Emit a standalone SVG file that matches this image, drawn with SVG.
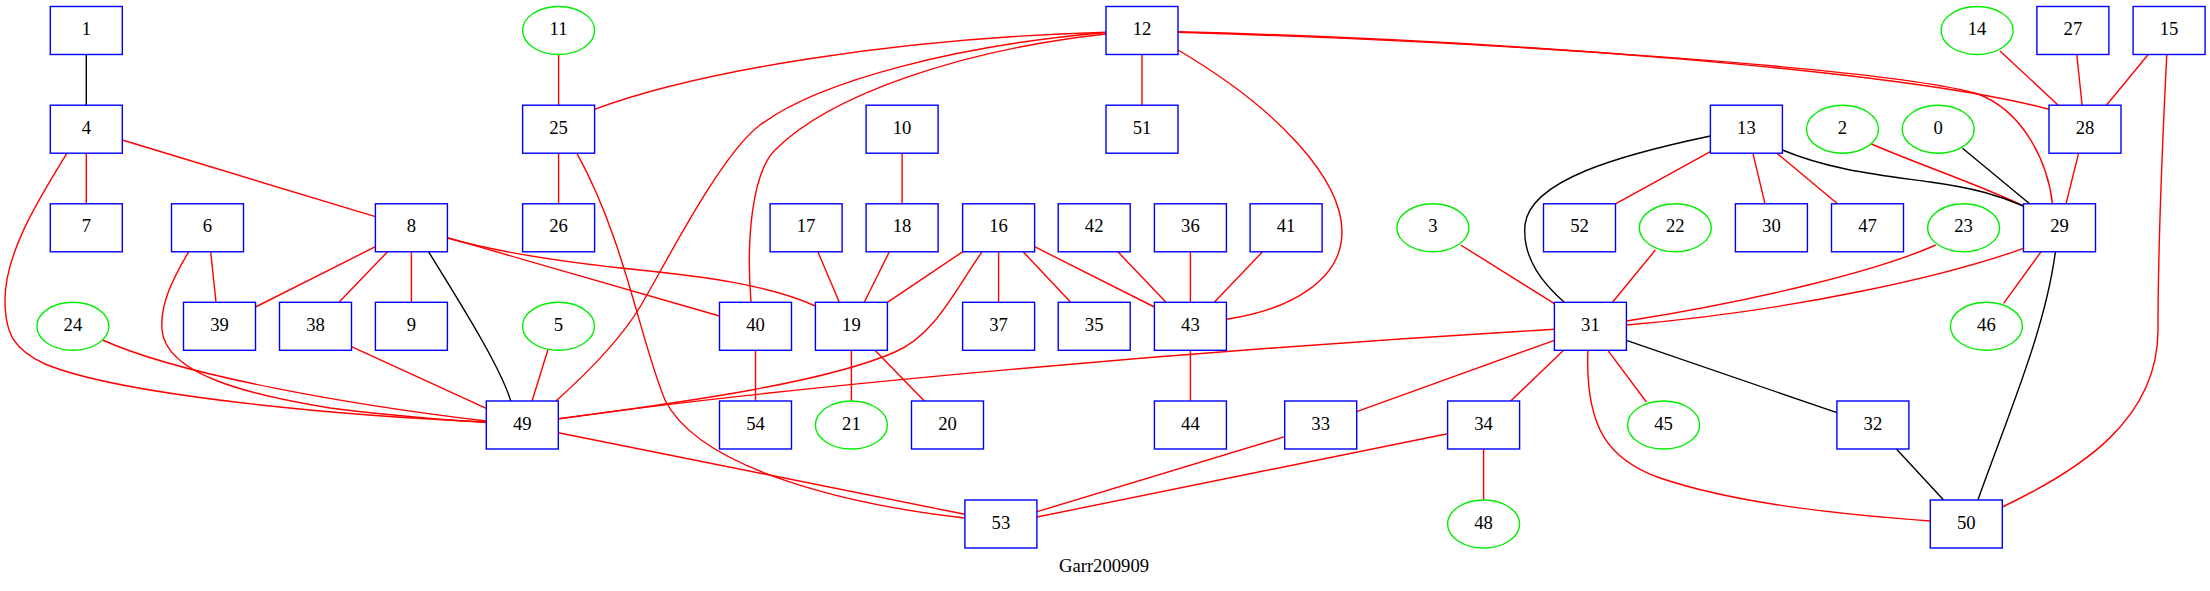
<svg xmlns="http://www.w3.org/2000/svg" width="2210" height="591" viewBox="0 0 2210 591">
<style>
.b rect{fill:#fff;stroke:#0000ff;stroke-width:1.4}
.g ellipse{fill:#fff;stroke:#00ee00;stroke-width:1.4}
text{font-family:"Liberation Serif","Times New Roman",serif;font-size:18.67px;text-anchor:middle;fill:#000}
#edges path,#edges line{fill:none;stroke-width:1.4}
.r{stroke:#ff0000}
.k{stroke:#000}
</style>
<rect width="2210" height="591" fill="#fff"/>
<g id="edges">
<line class="k" x1="86.3" y1="54.5" x2="86.3" y2="105.2"/>
<line class="r" x1="86.3" y1="153.2" x2="86.3" y2="203.8"/>
<line class="r" x1="122.3" y1="140" x2="375.4" y2="216.7"/>
<line class="r" x1="210.7" y1="251.8" x2="216" y2="302.3"/>
<line class="r" x1="375.4" y1="246.7" x2="255.5" y2="307"/>
<line class="r" x1="387.5" y1="251.8" x2="339" y2="302.3"/>
<line class="r" x1="411.4" y1="251.8" x2="411.4" y2="302.3"/>
<line class="r" x1="447.4" y1="237.7" x2="719.5" y2="316"/>
<line class="r" x1="558.6" y1="54.5" x2="558.6" y2="105.2"/>
<line class="r" x1="558.6" y1="153.2" x2="558.6" y2="203.8"/>
<line class="r" x1="1142" y1="54.5" x2="1142" y2="105.2"/>
<line class="r" x1="902.1" y1="153.2" x2="902.1" y2="203.8"/>
<line class="r" x1="817.9" y1="251.8" x2="839.3" y2="302.3"/>
<line class="r" x1="889.3" y1="251.8" x2="864.3" y2="302.3"/>
<line class="r" x1="962.6" y1="251.8" x2="887.4" y2="302.3"/>
<line class="r" x1="998.6" y1="251.8" x2="998.6" y2="302.3"/>
<line class="r" x1="1023.2" y1="251.8" x2="1070.7" y2="302.3"/>
<line class="r" x1="1034.6" y1="246.7" x2="1154.4" y2="307"/>
<line class="r" x1="1117.9" y1="251.8" x2="1166" y2="302.3"/>
<line class="r" x1="1190.4" y1="251.8" x2="1190.4" y2="302.3"/>
<line class="r" x1="1262.5" y1="251.8" x2="1214.3" y2="302.3"/>
<line class="r" x1="1190.4" y1="350.3" x2="1190.4" y2="401"/>
<line class="r" x1="351.5" y1="346.7" x2="486.3" y2="408.3"/>
<line class="r" x1="548.2" y1="349" x2="532" y2="401"/>
<line class="r" x1="755.5" y1="350.3" x2="755.5" y2="401"/>
<line class="r" x1="851.4" y1="350.3" x2="851.4" y2="401"/>
<line class="r" x1="875" y1="350.3" x2="924.3" y2="401"/>
<line class="r" x1="558.3" y1="432.7" x2="964.9" y2="514.3"/>
<line class="r" x1="1284.7" y1="436.7" x2="1037" y2="511.7"/>
<line class="r" x1="1447.6" y1="433.7" x2="1037" y2="517"/>
<line class="r" x1="1483.6" y1="449" x2="1483.6" y2="500"/>
<line class="r" x1="1554.4" y1="340.3" x2="1356.7" y2="411.7"/>
<line class="r" x1="1563.6" y1="350.3" x2="1510.7" y2="401"/>
<line class="r" x1="1607.9" y1="350.3" x2="1646.4" y2="402"/>
<line class="k" x1="1626.4" y1="340.3" x2="1836.9" y2="412.7"/>
<line class="k" x1="1896.4" y1="449" x2="1943.6" y2="500"/>
<line class="r" x1="1460.7" y1="245" x2="1554.4" y2="303.7"/>
<line class="r" x1="1655.4" y1="250" x2="1612.5" y2="302.3"/>
<line class="r" x1="1710.4" y1="151.7" x2="1615.5" y2="203.8"/>
<line class="r" x1="1752.9" y1="153.2" x2="1765" y2="203.8"/>
<line class="r" x1="1776.8" y1="153.2" x2="1837.5" y2="203.8"/>
<line class="k" x1="1962.5" y1="148.3" x2="2029.6" y2="203.8"/>
<line class="r" x1="2000" y1="51" x2="2058.2" y2="105.2"/>
<line class="r" x1="2076.8" y1="54.5" x2="2082.1" y2="105.2"/>
<line class="r" x1="2148.2" y1="54.5" x2="2106.4" y2="105.2"/>
<line class="r" x1="2078.6" y1="153.2" x2="2066" y2="203.8"/>
<line class="r" x1="2041" y1="251.8" x2="2003.6" y2="303.3"/>
<path class="r" d="M1871.4,144 C1920,165 1980,185 2023.5,206"/>
<path class="r" d="M67,153.2 C35,205 5,255 5,300 C5,335 15,350 45,364 C120,395 330,415 486.3,422"/>
<path class="r" d="M188.6,251.8 C172,280 160,305 162,330 C166,375 250,395 330,408 C400,417 450,420 486.3,422.5"/>
<path class="r" d="M102.5,340 C180,375 350,405 486.3,421"/>
<path class="r" d="M1106,32.3 C900,38 700,70 594.6,109.3"/>
<path class="r" d="M1106,32.5 C960,45 820,80 760,125 C720,155 665,265 640,307 C620,340 585,375 556,401"/>
<path class="r" d="M1106,34 C960,50 830,95 775,150 C752,173 746,240 751,302.3"/>
<path class="r" d="M1178,50 C1280,110 1342,180 1342,232 C1342,280 1290,310 1226.4,319.3"/>
<path class="r" d="M1178,31.7 C1500,40 1900,70 2049,109.3"/>
<path class="r" d="M1178,32.3 C1500,42 1880,68 1975,93 C2025,110 2048,165 2052.5,203.8"/>
<path class="k" d="M428.6,251.8 C455,295 500,365 510.7,401"/>
<path class="r" d="M447.4,238 C490,250 560,262 640,270 C700,276 770,285 815.4,306"/>
<path class="r" d="M576.8,153.2 C625,240 640,340 665,400 C700,470 850,505 964.9,518"/>
<path class="r" d="M982.1,251.8 C955,290 935,335 895,352 C820,385 660,405 558.3,419"/>
<path class="r" d="M558.3,418.7 C800,385 1200,350 1554.4,329.3"/>
<path class="r" d="M1587.9,350.3 C1585,430 1610,460 1660,478 C1740,505 1850,515 1930.3,521"/>
<path class="k" d="M2055.4,251.8 C2045,330 2010,410 1977.9,500"/>
<path class="r" d="M2166.8,54.5 C2162,150 2158,250 2158,330 C2158,420 2080,470 2002.3,507"/>
<path class="k" d="M1782.4,150 C1830,170 1880,175 1930,182 C1975,188 2000,196 2023.5,206"/>
<path class="k" d="M1710.4,136 C1620,155 1530,180 1525,225 C1522,260 1545,285 1564.3,302.3"/>
<path class="r" d="M1935.7,245 C1880,270 1760,300 1626.4,321"/>
<path class="r" d="M2023.5,248.3 C1950,275 1800,310 1626.4,325"/>
</g>
<g id="n1" class="b"><rect x="50.3" y="6.5" width="72" height="48"/><text x="86.3" y="35">1</text></g>
<g id="n11" class="g"><ellipse cx="558.6" cy="30.5" rx="36" ry="24"/><text x="558.6" y="35">11</text></g>
<g id="n12" class="b"><rect x="1106" y="6.5" width="72" height="48"/><text x="1142" y="35">12</text></g>
<g id="n14" class="g"><ellipse cx="1977.1" cy="30.5" rx="36" ry="24"/><text x="1977.1" y="35">14</text></g>
<g id="n27" class="b"><rect x="2036.9" y="6.5" width="72" height="48"/><text x="2072.9" y="35">27</text></g>
<g id="n15" class="b"><rect x="2133.1" y="6.5" width="72" height="48"/><text x="2169.1" y="35">15</text></g>
<g id="n4" class="b"><rect x="50.3" y="105.2" width="72" height="48"/><text x="86.3" y="133.7">4</text></g>
<g id="n25" class="b"><rect x="522.6" y="105.2" width="72" height="48"/><text x="558.6" y="133.7">25</text></g>
<g id="n10" class="b"><rect x="866.1" y="105.2" width="72" height="48"/><text x="902.1" y="133.7">10</text></g>
<g id="n51" class="b"><rect x="1106" y="105.2" width="72" height="48"/><text x="1142" y="133.7">51</text></g>
<g id="n13" class="b"><rect x="1710.4" y="105.2" width="72" height="48"/><text x="1746.4" y="133.7">13</text></g>
<g id="n2" class="g"><ellipse cx="1842.5" cy="129.2" rx="36" ry="24"/><text x="1842.5" y="133.7">2</text></g>
<g id="n0" class="g"><ellipse cx="1938.2" cy="129.2" rx="36" ry="24"/><text x="1938.2" y="133.7">0</text></g>
<g id="n28" class="b"><rect x="2049" y="105.2" width="72" height="48"/><text x="2085" y="133.7">28</text></g>
<g id="n7" class="b"><rect x="50.3" y="203.8" width="72" height="48"/><text x="86.3" y="232.3">7</text></g>
<g id="n6" class="b"><rect x="171.5" y="203.8" width="72" height="48"/><text x="207.5" y="232.3">6</text></g>
<g id="n8" class="b"><rect x="375.4" y="203.8" width="72" height="48"/><text x="411.4" y="232.3">8</text></g>
<g id="n26" class="b"><rect x="522.6" y="203.8" width="72" height="48"/><text x="558.6" y="232.3">26</text></g>
<g id="n17" class="b"><rect x="770.1" y="203.8" width="72" height="48"/><text x="806.1" y="232.3">17</text></g>
<g id="n18" class="b"><rect x="866.1" y="203.8" width="72" height="48"/><text x="902.1" y="232.3">18</text></g>
<g id="n16" class="b"><rect x="962.6" y="203.8" width="72" height="48"/><text x="998.6" y="232.3">16</text></g>
<g id="n42" class="b"><rect x="1058.2" y="203.8" width="72" height="48"/><text x="1094.2" y="232.3">42</text></g>
<g id="n36" class="b"><rect x="1154.4" y="203.8" width="72" height="48"/><text x="1190.4" y="232.3">36</text></g>
<g id="n41" class="b"><rect x="1250.1" y="203.8" width="72" height="48"/><text x="1286.1" y="232.3">41</text></g>
<g id="n3" class="g"><ellipse cx="1432.9" cy="227.8" rx="36" ry="24"/><text x="1432.9" y="232.3">3</text></g>
<g id="n52" class="b"><rect x="1543.5" y="203.8" width="72" height="48"/><text x="1579.5" y="232.3">52</text></g>
<g id="n22" class="g"><ellipse cx="1675.3" cy="227.8" rx="36" ry="24"/><text x="1675.3" y="232.3">22</text></g>
<g id="n30" class="b"><rect x="1735.4" y="203.8" width="72" height="48"/><text x="1771.4" y="232.3">30</text></g>
<g id="n47" class="b"><rect x="1831.5" y="203.8" width="72" height="48"/><text x="1867.5" y="232.3">47</text></g>
<g id="n23" class="g"><ellipse cx="1963.6" cy="227.8" rx="36" ry="24"/><text x="1963.6" y="232.3">23</text></g>
<g id="n29" class="b"><rect x="2023.5" y="203.8" width="72" height="48"/><text x="2059.5" y="232.3">29</text></g>
<g id="n24" class="g"><ellipse cx="72.9" cy="326.3" rx="36" ry="24"/><text x="72.9" y="330.8">24</text></g>
<g id="n39" class="b"><rect x="183.5" y="302.3" width="72" height="48"/><text x="219.5" y="330.8">39</text></g>
<g id="n38" class="b"><rect x="279.5" y="302.3" width="72" height="48"/><text x="315.5" y="330.8">38</text></g>
<g id="n9" class="b"><rect x="375.4" y="302.3" width="72" height="48"/><text x="411.4" y="330.8">9</text></g>
<g id="n5" class="g"><ellipse cx="558.5" cy="326.3" rx="36" ry="24"/><text x="558.5" y="330.8">5</text></g>
<g id="n40" class="b"><rect x="719.5" y="302.3" width="72" height="48"/><text x="755.5" y="330.8">40</text></g>
<g id="n19" class="b"><rect x="815.4" y="302.3" width="72" height="48"/><text x="851.4" y="330.8">19</text></g>
<g id="n37" class="b"><rect x="962.6" y="302.3" width="72" height="48"/><text x="998.6" y="330.8">37</text></g>
<g id="n35" class="b"><rect x="1058.2" y="302.3" width="72" height="48"/><text x="1094.2" y="330.8">35</text></g>
<g id="n43" class="b"><rect x="1154.4" y="302.3" width="72" height="48"/><text x="1190.4" y="330.8">43</text></g>
<g id="n31" class="b"><rect x="1554.4" y="302.3" width="72" height="48"/><text x="1590.4" y="330.8">31</text></g>
<g id="n46" class="g"><ellipse cx="1986.4" cy="326.3" rx="36" ry="24"/><text x="1986.4" y="330.8">46</text></g>
<g id="n49" class="b"><rect x="486.3" y="401" width="72" height="48"/><text x="522.3" y="429.5">49</text></g>
<g id="n54" class="b"><rect x="719.5" y="401" width="72" height="48"/><text x="755.5" y="429.5">54</text></g>
<g id="n21" class="g"><ellipse cx="851.4" cy="425" rx="36" ry="24"/><text x="851.4" y="429.5">21</text></g>
<g id="n20" class="b"><rect x="911.5" y="401" width="72" height="48"/><text x="947.5" y="429.5">20</text></g>
<g id="n44" class="b"><rect x="1154.4" y="401" width="72" height="48"/><text x="1190.4" y="429.5">44</text></g>
<g id="n33" class="b"><rect x="1284.7" y="401" width="72" height="48"/><text x="1320.7" y="429.5">33</text></g>
<g id="n34" class="b"><rect x="1447.6" y="401" width="72" height="48"/><text x="1483.6" y="429.5">34</text></g>
<g id="n45" class="g"><ellipse cx="1663.6" cy="425" rx="36" ry="24"/><text x="1663.6" y="429.5">45</text></g>
<g id="n32" class="b"><rect x="1836.9" y="401" width="72" height="48"/><text x="1872.9" y="429.5">32</text></g>
<g id="n53" class="b"><rect x="964.9" y="500" width="72" height="48"/><text x="1000.9" y="528.5">53</text></g>
<g id="n48" class="g"><ellipse cx="1483.6" cy="524" rx="36" ry="24"/><text x="1483.6" y="528.5">48</text></g>
<g id="n50" class="b"><rect x="1930.3" y="500" width="72" height="48"/><text x="1966.3" y="528.5">50</text></g>
<text id="graph-label" x="1104" y="571.5">Garr200909</text>
</svg>
